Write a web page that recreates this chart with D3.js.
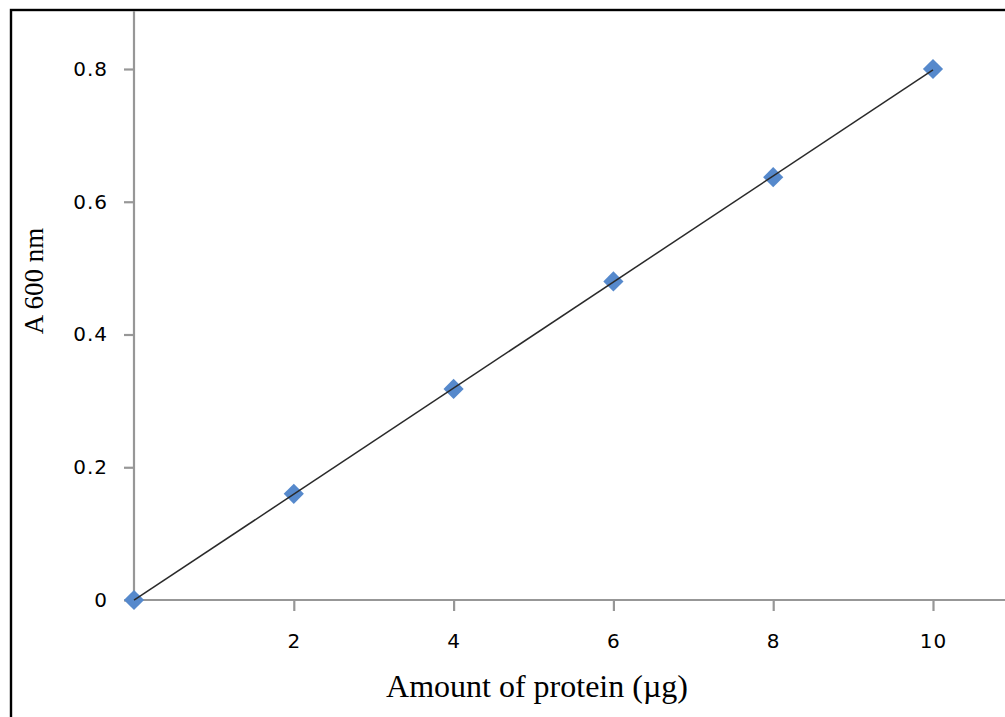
<!DOCTYPE html>
<html>
<head>
<meta charset="utf-8">
<script src="https://cdn.jsdelivr.net/npm/d3@7"></script>
<style>
  html, body { margin: 0; padding: 0; background: #fff; }
  svg { display: block; }
</style>
</head>
<body>
<svg id="chart" width="1005" height="717"></svg>
<script>
// ---- data ----
const proteinUg = [0, 2, 4, 6, 8, 10];
const absorbance = [0, 0.16, 0.318, 0.48, 0.637, 0.8];
const xTicks = [2, 4, 6, 8, 10];
const yTicks = [0, 0.2, 0.4, 0.6, 0.8];
const xTitle = "Amount of protein (\u00B5g)";
const yTitle = "A 600 nm";

const svg = d3.select("#chart");
const W = 1005, H = 717;

// outer frame (cropped chart area)
svg.append("rect")
  .attr("x", 11).attr("y", 10)
  .attr("width", W + 20).attr("height", H + 20)
  .attr("fill", "#fff").attr("stroke", "#000").attr("stroke-width", 2.4);

const x = d3.scaleLinear().domain([0, 10]).range([134, 933]);
const y = d3.scaleLinear().domain([0, 0.8]).range([600, 69]);

// axis lines
const axisColor = "#979797";
svg.append("line")
  .attr("x1", x(0)).attr("x2", W + 5)
  .attr("y1", y(0)).attr("y2", y(0))
  .attr("stroke", axisColor).attr("stroke-width", 2.2);
svg.append("line")
  .attr("x1", x(0)).attr("x2", x(0))
  .attr("y1", y(0)).attr("y2", 11)
  .attr("stroke", axisColor).attr("stroke-width", 2.2);

const tickFont = g => g.selectAll(".tick text")
  .attr("fill", "#000")
  .style("font-family", "'DejaVu Sans', sans-serif")
  .style("font-size", "20px")
  .style("letter-spacing", "1px");

// x axis ticks + labels
const xAxis = d3.axisBottom(x).tickValues(xTicks).tickSize(11).tickPadding(23)
  .tickFormat(d3.format("d"));
const gx = svg.append("g").attr("transform", `translate(0,${y(0)})`).call(xAxis);
gx.select(".domain").remove();
gx.selectAll(".tick line").attr("stroke", axisColor).attr("stroke-width", 2.2);
tickFont(gx);

// y axis ticks + labels
const yAxis = d3.axisLeft(y).tickValues(yTicks).tickSize(10).tickPadding(16)
  .tickFormat(d => d === 0 ? "0" : d3.format(".1f")(d));
const gy = svg.append("g").attr("transform", `translate(${x(0)},0)`).call(yAxis);
gy.select(".domain").remove();
gy.selectAll(".tick line").attr("stroke", axisColor).attr("stroke-width", 2.2);
tickFont(gy);

// linear trendline (least squares of the data)
const mx = d3.mean(proteinUg), my = d3.mean(absorbance);
const slope = d3.sum(proteinUg.map((v, i) => (v - mx) * (absorbance[i] - my))) /
              d3.sum(proteinUg.map(v => (v - mx) * (v - mx)));
const intercept = my - slope * mx;
const xr = d3.extent(proteinUg);

// markers (diamonds)
const sym = d3.symbol().type(d3.symbolDiamond2).size(260);
svg.append("g").selectAll("path")
  .data(proteinUg.map((v, i) => [v, absorbance[i]]))
  .join("path")
  .attr("d", sym)
  .attr("transform", d => `translate(${x(d[0])},${y(d[1])})`)
  .attr("fill", "#5689cc");

// trendline over markers (as in reference)
svg.append("line")
  .attr("x1", x(xr[0])).attr("y1", y(intercept + slope * xr[0]))
  .attr("x2", x(xr[1])).attr("y2", y(intercept + slope * xr[1]))
  .attr("stroke", "#2a2a2a").attr("stroke-width", 1.5);

// axis titles
svg.append("text")
  .attr("x", 537).attr("y", 697)
  .attr("text-anchor", "middle")
  .style("font-family", "'Liberation Serif', 'Times New Roman', serif")
  .style("font-size", "32px")
  .attr("fill", "#000")
  .text(xTitle);

svg.append("text")
  .attr("transform", "translate(43,281) rotate(-90)")
  .attr("text-anchor", "middle")
  .style("font-family", "'Liberation Serif', 'Times New Roman', serif")
  .style("font-size", "27px")
  .attr("fill", "#000")
  .text(yTitle);
</script>
</body>
</html>
